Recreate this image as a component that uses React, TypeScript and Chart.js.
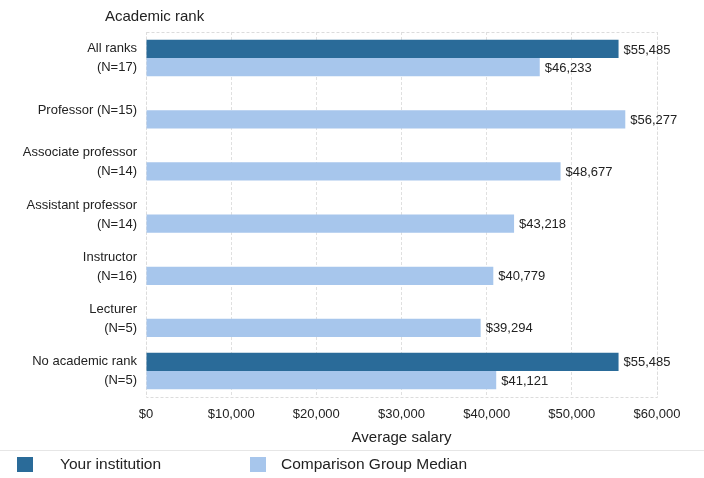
import React, { useEffect, useRef } from "react";
import { Chart, registerables } from "chart.js";

Chart.register(...registerables);

const categories: string[][] = [
  ["All ranks", "(N=17)"],
  ["Professor (N=15)"],
  ["Associate professor", "(N=14)"],
  ["Assistant professor", "(N=14)"],
  ["Instructor", "(N=16)"],
  ["Lecturer", "(N=5)"],
  ["No academic rank", "(N=5)"],
];
const yourInstitution: (number | null)[] = [55485, null, null, null, null, null, 55485];
const comparisonMedian: number[] = [46233, 56277, 48677, 43218, 40779, 39294, 41121];
const xTicks: number[] = [0, 10000, 20000, 30000, 40000, 50000, 60000];

const DARK = "#2a6b99";
const LIGHT = "#a7c6ec";
const FONT = "'Liberation Sans', Arial, sans-serif";

const fmt = (v: number) => "$" + v.toLocaleString("en-US");

export default function App() {
  const ref = useRef<HTMLCanvasElement>(null);
  useEffect(() => {
    if (!ref.current) return;
    const labelPlugin = {
      id: "labels",
      afterDatasetsDraw(chart: any) {
        const ctx = chart.ctx;
        ctx.save();
        ctx.font = `13px ${FONT}`;
        ctx.fillStyle = "#222";
        ctx.textBaseline = "middle";
        ctx.textAlign = "left";
        chart.data.datasets.forEach((ds: any, i: number) => {
          const meta = chart.getDatasetMeta(i);
          meta.data.forEach((bar: any, j: number) => {
            const v = ds.data[j];
            if (v == null) return;
            ctx.fillText(fmt(v), bar.x + 5, bar.y + 1);
          });
        });
        ctx.restore();
      },
      beforeDatasetsDraw(chart: any) {
        const { ctx, chartArea: a } = chart;
        ctx.save();
        ctx.strokeStyle = "#dcdcdc";
        ctx.lineWidth = 1;
        ctx.setLineDash([3, 2]);
        ctx.strokeRect(a.left + 0.5, a.top + 0.5, a.right - a.left, a.bottom - a.top);
        ctx.restore();
      },
    };
    const chart = new Chart(ref.current, {
      type: "bar",
      data: {
        labels: categories,
        datasets: [
          {
            label: "Your institution",
            data: yourInstitution,
            backgroundColor: DARK,
            barPercentage: 1,
            categoryPercentage: 0.7,
          },
          {
            label: "Comparison Group Median",
            data: comparisonMedian,
            backgroundColor: LIGHT,
            barPercentage: 1,
            categoryPercentage: 0.7,
          },
        ],
      },
      options: {
        indexAxis: "y",
        animation: false,
        responsive: false,
        maintainAspectRatio: false,
        layout: { padding: { top: 32, right: 47, bottom: 31, left: 0 } },
        plugins: {
          legend: { display: false },
          tooltip: { enabled: false },
        },
        scales: {
          x: {
            min: 0,
            max: 60000,
            afterBuildTicks(axis: any) {
              axis.ticks = xTicks.map((v) => ({ value: v }));
            },
            afterFit(axis: any) {
              axis.height = 50;
            },
            grid: {
              color: "#e0e0e0",
              tickLength: 0,
              drawTicks: false,
            },
            border: { display: false, dash: [3, 2] },
            ticks: {
              padding: 10,
              color: "#222",
              font: { family: FONT, size: 13 },
              callback: (v: any) => fmt(Number(v)),
            },
            title: {
              display: true,
              text: "Average salary",
              color: "#222",
              font: { family: FONT, size: 15 },
              padding: { top: 1, bottom: 0 },
            },
          },
          y: {
            afterFit(axis: any) {
              axis.width = 146;
            },
            grid: { display: false, drawTicks: false, tickLength: 0 },
            border: { display: false },
            ticks: {
              padding: 9,
              color: "#222",
              font: { family: FONT, size: 13, lineHeight: 1.46 },
            },
          },
        },
      },
      plugins: [labelPlugin],
    });
    return () => chart.destroy();
  }, []);

  const legendText: React.CSSProperties = {
    position: "absolute",
    top: 455,
    fontFamily: FONT,
    fontSize: 15.5,
    color: "#222",
    lineHeight: "18px",
  };
  return (
    <div
      style={{
        position: "fixed",
        left: 0,
        top: 0,
        width: 704,
        height: 478,
        background: "#fff",
        overflow: "hidden",
      }}
    >
      <canvas ref={ref} width={704} height={478} style={{ position: "absolute", left: 0, top: 0 }} />
      <div
        style={{
          position: "absolute",
          left: 105,
          top: 7,
          fontFamily: FONT,
          fontSize: 15,
          color: "#222",
        }}
      >
        Academic rank
      </div>
      <div style={{ position: "absolute", left: 0, top: 450, width: 704, height: 1, background: "#e6e6e6" }} />
      <div style={{ position: "absolute", left: 17, top: 457, width: 16, height: 15, background: DARK }} />
      <div style={{ ...legendText, left: 60 }}>Your institution</div>
      <div style={{ position: "absolute", left: 250, top: 457, width: 16, height: 15, background: LIGHT }} />
      <div style={{ ...legendText, left: 281 }}>Comparison Group Median</div>
    </div>
  );
}
